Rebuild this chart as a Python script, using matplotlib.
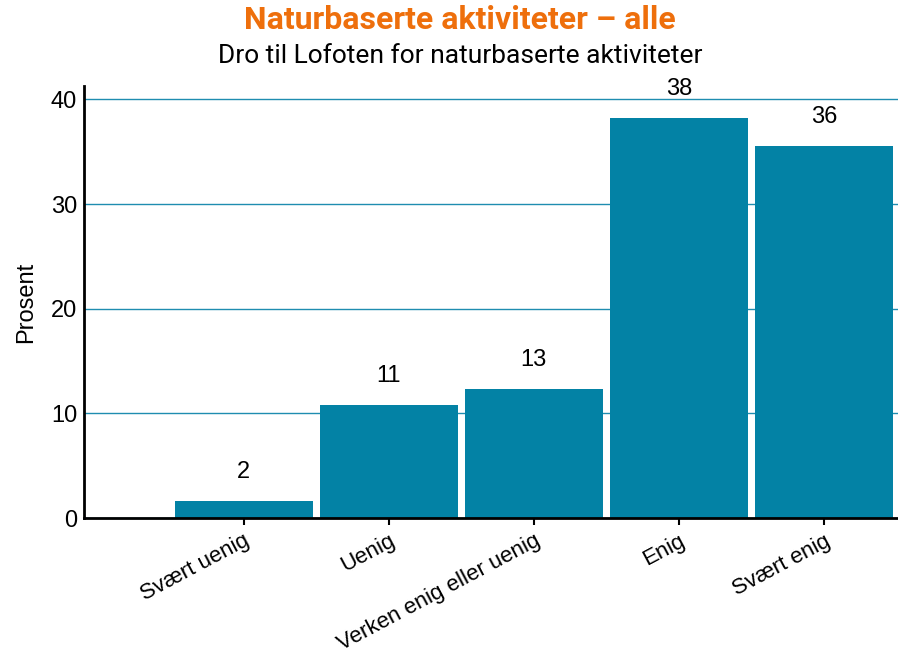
import numpy as np
import matplotlib.pyplot as plt

# data
categories = ['Svært uenig', 'Uenig', 'Verken enig eller uenig', 'Enig', 'Svært enig']
values = [1.6, 10.8, 12.3, 38.2, 35.5]
labels = ['2', '11', '13', '38', '36']

title = 'Naturbaserte aktiviteter – alle'
subtitle = 'Dro til Lofoten for naturbaserte aktiviteter'

bar_color = '#0382a5'
grid_color = '#1f8db0'
title_color = '#ee6f0c'

plt.rcParams['font.family'] = ['Liberation Sans', 'DejaVu Sans']

fig = plt.figure(figsize=(8.98, 6.61), dpi=100)
ax = fig.add_axes([0.0935, 0.2163, 0.9065, 0.654])

x = np.arange(len(categories))
ax.bar(x, values, width=0.95, color=bar_color, zorder=2)

for xi, v, lab in zip(x, values, labels):
    ax.annotate(lab, (xi, v), xytext=(0, 21), textcoords='offset points',
                ha='center', va='center', fontsize=17)

ax.set_xlim(-1.10, 4.51)
ax.set_ylim(0, 41.3)
ax.set_yticks([0, 10, 20, 30, 40])
ax.yaxis.grid(True, color=grid_color, linewidth=1.0, zorder=0)
ax.set_axisbelow(True)

ax.set_xticks(x)
ax.set_xticklabels(categories, rotation=28, ha='right', va='top',
                   rotation_mode='anchor', fontsize=16)
ax.tick_params(axis='x', length=5, width=1.5, pad=4)
ax.tick_params(axis='y', length=0, labelsize=17, pad=5)

for s in ['top', 'right']:
    ax.spines[s].set_visible(False)
for s in ['left', 'bottom']:
    ax.spines[s].set_linewidth(2)

ax.set_ylabel('Prosent', fontsize=17, labelpad=10)

fig.text(0.512, 0.969, title, ha='center', va='center', fontsize=23,
         fontweight='bold', color=title_color, family=['Roboto', 'DejaVu Sans'])
fig.text(0.512, 0.915, subtitle, ha='center', va='center', fontsize=19,
         color='black', family=['Roboto', 'DejaVu Sans'])

fig.savefig('out.png', dpi=100)
